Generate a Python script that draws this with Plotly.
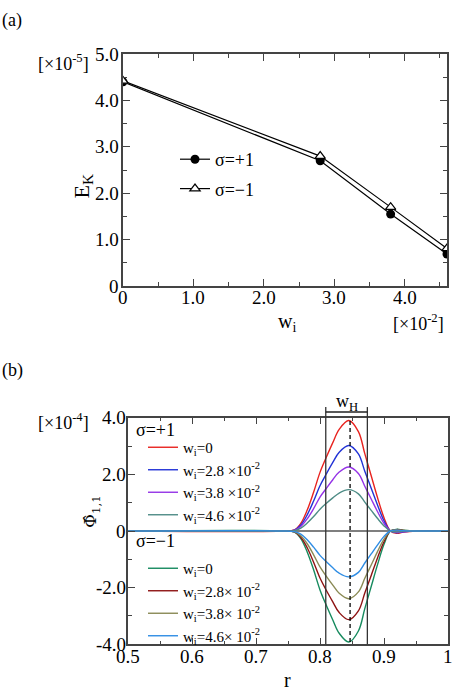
import plotly.graph_objects as go

FONT = "Liberation Serif"

# ---------------- Panel (a) data ----------------
wi = [0, 2.8, 3.8, 4.6]
ek_plus = [4.40, 2.70, 1.55, 0.69]
ek_minus = [4.42, 2.80, 1.70, 0.81]
a_xtickvals = [0, 1, 2, 3, 4]
a_xticktext = ["0", "1.0", "2.0", "3.0", "4.0"]
a_ytickvals = [0, 1, 2, 3, 4, 5]
a_yticktext = ["0", "1.0", "2.0", "3.0", "4.0", "5.0"]

# ---------------- Panel (b) data ----------------
r = [0.50, 0.74, 0.76, 0.77, 0.78, 0.79, 0.80, 0.81, 0.82, 0.83, 0.845,
     0.86, 0.87, 0.88, 0.89, 0.90, 0.91, 0.92, 0.93, 0.95, 1.00]
p_w0 = [0, 0, 0.04, 0.27, 0.74, 1.37, 2.07, 2.61, 3.12, 3.59, 3.90, 3.51, 2.73, 1.95, 1.17, 0.47, 0, -0.08, -0.04, 0, 0]
p_w28 = [0, 0, 0.03, 0.21, 0.57, 1.06, 1.60, 2.02, 2.42, 2.78, 3.02, 2.72, 2.11, 1.51, 0.91, 0.36, 0, -0.06, -0.03, 0, 0]
p_w38 = [0, 0, 0.02, 0.16, 0.43, 0.79, 1.20, 1.51, 1.81, 2.08, 2.26, 2.03, 1.58, 1.13, 0.68, 0.27, 0, -0.05, -0.02, 0, 0]
p_w46 = [0, 0, 0.01, 0.10, 0.28, 0.51, 0.77, 0.98, 1.17, 1.34, 1.46, 1.31, 1.02, 0.73, 0.44, 0.18, 0, -0.03, -0.01, 0, 0]
m_w0 = [0, 0, -0.04, -0.27, -0.74, -1.37, -2.08, -2.63, -3.14, -3.61, -3.92, -3.53, -2.74, -1.96, -1.18, -0.47, 0, 0.06, 0.03, 0, 0]
m_w28 = [0, 0, -0.03, -0.22, -0.59, -1.10, -1.66, -2.10, -2.50, -2.88, -3.13, -2.82, -2.19, -1.57, -0.94, -0.38, 0, 0.05, 0.02, 0, 0]
m_w38 = [0, 0, -0.02, -0.17, -0.45, -0.84, -1.27, -1.60, -1.91, -2.20, -2.39, -2.15, -1.67, -1.20, -0.72, -0.29, 0, 0.04, 0.02, 0, 0]
m_w46 = [0, 0, -0.02, -0.11, -0.31, -0.57, -0.86, -1.09, -1.30, -1.49, -1.62, -1.46, -1.13, -0.81, -0.49, -0.19, 0, 0.03, 0.01, 0, 0]
b_xtickvals = [0.5, 0.6, 0.7, 0.8, 0.9, 1.0]
b_xticktext = ["0.5", "0.6", "0.7", "0.8", "0.9", "1"]
b_ytickvals = [-4, -2, 0, 2, 4]
b_yticktext = ["-4.0", "-2.0", "0", "2.0", "4.0"]

wH_edges = [0.809, 0.874]
r_peak = 0.847

plus_names = ["w<sub>i</sub>=0", "w<sub>i</sub>=2.8 ×10<sup>-2</sup>",
              "w<sub>i</sub>=3.8 ×10<sup>-2</sup>", "w<sub>i</sub>=4.6 ×10<sup>-2</sup>"]
minus_names = ["w<sub>i</sub>=0", "w<sub>i</sub>=2.8× 10<sup>-2</sup>",
               "w<sub>i</sub>=3.8× 10<sup>-2</sup>", "w<sub>i</sub>=4.6× 10<sup>-2</sup>"]
plus_series = [p_w0, p_w28, p_w38, p_w46]
minus_series = [m_w0, m_w28, m_w38, m_w46]
plus_colors = ["#e8231f", "#2233d6", "#9433e6", "#4e8c86"]
minus_colors = ["#168a5e", "#8e1414", "#8a8a55", "#2f8de4"]

fig = go.Figure()

fig.add_trace(go.Scatter(x=wi, y=ek_plus, mode="lines+markers", name="σ=+1",
                         line=dict(color="black", width=1.2),
                         marker=dict(symbol="circle", size=9, color="black"),
                         xaxis="x", yaxis="y", legend="legend", legendgroup="a1"))
fig.add_trace(go.Scatter(x=wi, y=ek_minus, mode="lines+markers", name="σ=−1",
                         line=dict(color="black", width=1.2),
                         marker=dict(symbol="triangle-up", size=9, color="white",
                                     line=dict(color="black", width=1.2)),
                         xaxis="x", yaxis="y", legend="legend", legendgroup="a2"))

for name, ys, c in zip(plus_names, plus_series, plus_colors):
    fig.add_trace(go.Scatter(x=r, y=ys, mode="lines", name=name, line=dict(color=c, width=1.4, shape="spline"),
                             xaxis="x2", yaxis="y2", legend="legend2", legendgroup="plus"))
for name, ys, c in zip(minus_names, minus_series, minus_colors):
    fig.add_trace(go.Scatter(x=r, y=ys, mode="lines", name=name, line=dict(color=c, width=1.4, shape="spline"),
                             xaxis="x2", yaxis="y2", legend="legend2", legendgroup="minus"))

axcol = "#444444"
common = dict(showline=True, linecolor=axcol, linewidth=1.5, mirror="ticks", ticks="inside",
              tickcolor=axcol, tickwidth=1.2, ticklen=7, showgrid=False, zeroline=False,
              showticklabels=False)

fig.update_layout(
    width=460, height=692, margin=dict(l=0, r=0, t=0, b=0),
    paper_bgcolor="white", plot_bgcolor="white",
    font=dict(family=FONT, size=19, color="black"),
    xaxis=dict(domain=[123/460, 447/460], range=[0, 4.6], anchor="y", tickvals=a_xtickvals,
               minor=dict(dtick=0.5, ticks="inside", ticklen=4, tickcolor=axcol), **common),
    yaxis=dict(domain=[1-286/692, 1-54/692], range=[0, 5.0], anchor="x", tickvals=a_ytickvals,
               minor=dict(dtick=0.5, ticks="inside", ticklen=4, tickcolor=axcol), **common),
    xaxis2=dict(domain=[128/460, 448/460], range=[0.5, 1.0], anchor="y2", tickvals=b_xtickvals,
                minor=dict(dtick=0.05, ticks="inside", ticklen=4, tickcolor=axcol), **common),
    yaxis2=dict(domain=[1-644.3/692, 1-417.7/692], range=[-4, 4], anchor="x2", tickvals=b_ytickvals,
                minor=dict(dtick=1, ticks="inside", ticklen=4, tickcolor=axcol), **common),
    legend=dict(x=175/460, y=1-141/692, xanchor="left", yanchor="top", bgcolor="rgba(0,0,0,0)",
                font=dict(family=FONT, size=18), tracegroupgap=3),
    legend2=dict(x=143/460, y=1-431/692, xanchor="left", yanchor="top", bgcolor="rgba(0,0,0,0)",
                 font=dict(family=FONT, size=15), tracegroupgap=31),
)

# tick labels, placed through the axes' own coordinates
def tick_labels(xa, ya, xv, xt, yv, yt, x_shift, y_shift):
    for v, t in zip(xv, xt):
        fig.add_annotation(text=t, x=v, xref=xa, y=0, yref=ya + " domain", xanchor="center",
                           yanchor="top", yshift=y_shift, showarrow=False,
                           font=dict(family=FONT, size=19))
    for v, t in zip(yv, yt):
        fig.add_annotation(text=t, x=0, xref=xa + " domain", y=v, yref=ya, xanchor="right",
                           yanchor="middle", xshift=x_shift, showarrow=False,
                           font=dict(family=FONT, size=19))

tick_labels("x", "y", a_xtickvals, a_xticktext, a_ytickvals, a_yticktext, -2, 1)
tick_labels("x2", "y2", b_xtickvals, b_xticktext, b_ytickvals, b_yticktext, 0, 0)

# zero line and markers of the wH region in panel (b)
fig.add_shape(type="line", xref="x2", yref="y2", x0=0.5, x1=1.0, y0=0, y1=0,
              line=dict(color="#555555", width=1.5), layer="below")
for xe in wH_edges:
    fig.add_shape(type="line", xref="x2", yref="y2 domain", x0=xe, x1=xe, y0=0, y1=1.047,
                  line=dict(color="#333333", width=1.3))
fig.add_shape(type="line", xref="x2", yref="y2 domain", x0=wH_edges[0], x1=wH_edges[1], y0=1.025, y1=1.025,
              line=dict(color="#222222", width=1.5))
fig.add_shape(type="line", xref="x2", yref="y2", x0=r_peak, x1=r_peak, y0=min(m_w0), y1=max(p_w0),
              line=dict(color="black", width=1.3, dash="4px,3px"))

ann = [
    dict(text="(a)", x=0/460, y=1-20/692, xanchor="left", size=18),
    dict(text="[×10<sup>-5</sup>]", x=91/460, y=1-62/692, xanchor="right", size=18),
    dict(text="w<sub>i</sub>", x=287/460, y=1-322/692, xanchor="center", size=20),
    dict(text="[×10<sup>-2</sup>]", x=446/460, y=1-322/692, xanchor="right", size=18),
    dict(text="(b)", x=0/460, y=1-370/692, xanchor="left", size=18),
    dict(text="[×10<sup>-4</sup>]", x=91/460, y=1-421/692, xanchor="right", size=18),
    dict(text="r", x=287/460, y=1-680/692, xanchor="center", size=20),
    dict(text="σ=+1", x=134/460, y=1-430/692, xanchor="left", size=18),
    dict(text="σ=−1", x=134/460, y=1-541/692, xanchor="left", size=18),
]
for a in ann:
    fig.add_annotation(text=a["text"], x=a["x"], y=a["y"], xref="paper", yref="paper",
                       xanchor=a["xanchor"], yanchor="middle", showarrow=False,
                       font=dict(family=FONT, size=a["size"]))

fig.add_annotation(text="E<sub>K</sub>", x=66/460, y=1-172/692, xref="paper", yref="paper",
                   textangle=-90, showarrow=False, font=dict(family=FONT, size=22))
fig.add_annotation(text="Φ\u0302<sub>1,1</sub>", x=78/460, y=1-530/692, xref="paper", yref="paper",
                   textangle=-90, showarrow=False, font=dict(family="DejaVu Serif", size=17))
fig.add_annotation(text="w<sub>H</sub>", x=sum(wH_edges)/2, y=1.065, xref="x2", yref="y2 domain",
                   showarrow=False, yanchor="middle", font=dict(family=FONT, size=18))

fig.write_html("out.html")
